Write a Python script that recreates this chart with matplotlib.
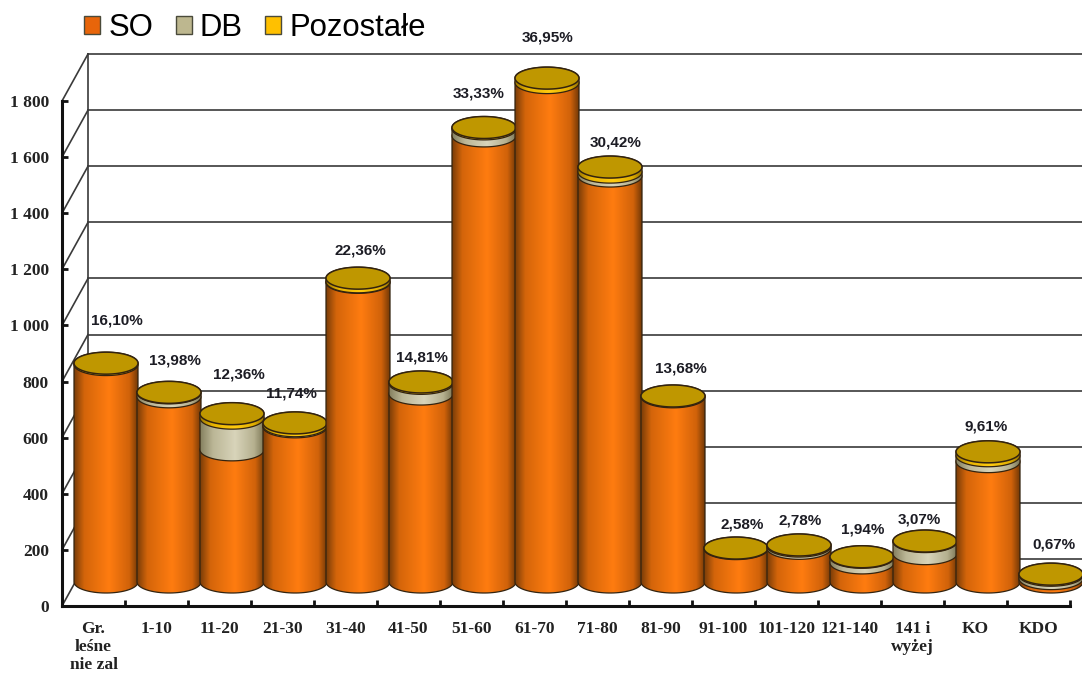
"""
Stacked cylinder chart of stands by age class.
"""
import numpy as np
import matplotlib
matplotlib.use("Agg")
import matplotlib.pyplot as plt
from matplotlib.colors import LinearSegmentedColormap
from matplotlib.patches import Patch, Polygon
from matplotlib.path import Path
from matplotlib.patches import PathPatch

categories = ["Gr.\nleśne\nnie zal", "1-10", "11-20", "21-30", "31-40", "41-50", "51-60", "61-70",
              "71-80", "81-90", "91-100", "101-120", "121-140", "141 i\nwyżej", "KO", "KDO"]
so = [775, 660, 471, 553, 1068, 670, 1590, 1780, 1447, 660, 119, 120, 68, 101, 429, 12]
db = [0, 14, 113, 4, 2, 38, 25, 0, 14, 0, 0, 8, 20, 43, 21, 12]
other = [5, 2, 16, 10, 13, 5, 5, 16, 18, 3, 2, 4, 2, 2, 14, 4]
shares = ["16,10%", "13,98%", "12,36%", "11,74%", "22,36%", "14,81%", "33,33%", "36,95%",
          "30,42%", "13,68%", "2,58%", "2,78%", "1,94%", "3,07%", "9,61%", "0,67%"]
y_ticks = [0, 200, 400, 600, 800, 1000, 1200, 1400, 1600, 1800]
y_tick_labels = ["0", "200", "400", "600", "800", "1 000", "1 200", "1 400", "1 600", "1 800"]
series_names = ["SO", "DB", "Pozostałe"]

# label placement relative to the cylinder cap, pixels
label_dx = [11, 6, 7, -4, 2, 1, -5, 1, 6, 8, 6, 1, 1, -6, -2, 3]
label_dy = [43, 32, 39, 29, 28, 24, 34, 41, 25, 27, 24, 24, 27, 22, 25, 30]

W, H = 1082, 673
PX_X = 63.0      # pixels per category
PX_Y = 0.2806    # pixels per unit
BAR_DX = 12.5 / PX_X
BAR_DY = 24 / PX_Y
WALL_DX = 26 / PX_X
WALL_DY = 47 / PX_Y
ELL_A = 32 / PX_X
ELL_B = 11 / PX_Y

orange = LinearSegmentedColormap.from_list("o", [(0, "#7A3D08"), (0.16, "#D4650A"), (0.55, "#FF7C10"),
                                                 (0.87, "#D0620A"), (1, "#753A07")])
tan = LinearSegmentedColormap.from_list("t", [(0, "#85805F"), (0.2, "#BBB696"), (0.55, "#D8D4BA"),
                                              (0.85, "#B5B08F"), (1, "#7E7958")])
yellow = LinearSegmentedColormap.from_list("y", [(0, "#A07A00"), (0.2, "#E8B400"), (0.55, "#FFCB10"),
                                                 (0.85, "#E0AE00"), (1, "#987400")])
EDGE = "#33230F"
CAP = "#BF9700"


def cylinder_side(xc, v0, v1):
    t = np.linspace(np.pi, 2 * np.pi, 40)
    xb = xc + ELL_A * np.cos(t)
    yb = v0 + ELL_B * np.sin(t)
    t2 = np.linspace(0, np.pi, 40)
    xt = xc + ELL_A * np.cos(t2)
    yt = v1 + ELL_B * np.sin(t2)
    pts = np.column_stack([np.r_[xb, xt], np.r_[yb, yt]])
    return Path(np.vstack([pts, pts[0]]), closed=True)


def draw_segment(ax, xc, v0, v1, cmap, z):
    grad = np.linspace(0, 1, 128)[np.newaxis, :]
    top = v1 + ELL_B
    bottom = v0 - ELL_B
    im = ax.imshow(grad, extent=[xc - ELL_A, xc + ELL_A, bottom, top], aspect="auto",
                   cmap=cmap, vmin=0, vmax=1, zorder=z, origin="lower")
    path = cylinder_side(xc, v0, v1)
    patch = PathPatch(path, transform=ax.transData, fc="none", ec=EDGE, lw=0.9, zorder=z + 0.1, clip_on=False)
    ax.add_patch(patch)
    im.set_clip_path(patch)
    im.set_clip_box(ax.figure.bbox)


def draw_cap(ax, xc, v, z):
    t = np.linspace(0, 2 * np.pi, 90)
    pts = np.column_stack([xc + ELL_A * np.cos(t), v + ELL_B * np.sin(t)])
    ax.add_patch(Polygon(pts, closed=True, fc=CAP, ec=EDGE, lw=1.1, zorder=z, clip_on=False))


fig = plt.figure(figsize=(W / 100, H / 100), dpi=100)
ax = fig.add_axes([62 / W, (H - 606) / H, 1008 / W, 505 / H])
ax.set_autoscale_on(False)
ax.set_xlim(0, 16)
ax.set_ylim(0, 1800)
ax.patch.set_visible(False)

# walls
right_edge = (W - 62) / PX_X
wall_color = "#3A3A3A"
for v in y_ticks:
    ax.plot([WALL_DX, right_edge], [v + WALL_DY, v + WALL_DY], color=wall_color, lw=1.2, zorder=1, clip_on=False)
    ax.plot([0, WALL_DX], [v, v + WALL_DY], color=wall_color, lw=1.2, zorder=1, clip_on=False)
ax.plot([WALL_DX, WALL_DX], [WALL_DY, 1800 + WALL_DY], color=wall_color, lw=1.2, zorder=1, clip_on=False)

# cylinders
z = 3
for i in range(len(categories)):
    xc = i + 0.5 + BAR_DX
    base = BAR_DY
    for val, cmap in zip([so[i], db[i], other[i]], [orange, tan, yellow]):
        if val > 0:
            draw_segment(ax, xc, base, base + val, cmap, z)
            z += 1
        base += val
    draw_cap(ax, xc, base, z)
    z += 1
    ax.annotate(shares[i], xy=(xc, base), xycoords="data",
                xytext=(label_dx[i], label_dy[i]), textcoords="offset pixels",
                ha="center", va="center", fontsize=11, fontweight="bold",
                family="Liberation Sans", color="#1C1C24", zorder=500, annotation_clip=False)

ax.set_xlim(0, 16)
ax.set_ylim(0, 1800)

# axes
for s in ["top", "right"]:
    ax.spines[s].set_visible(False)
for s in ["left", "bottom"]:
    ax.spines[s].set_linewidth(2.2)
    ax.spines[s].set_color("#111111")
    ax.spines[s].set_zorder(400)

ax.set_yticks(y_ticks)
ax.set_yticklabels(y_tick_labels, fontsize=12.5, fontweight="bold", family="Liberation Serif", color="#222222")
ax.set_xticks(np.arange(0, 17))
ax.set_xticklabels([])
ax.set_xticks(np.arange(len(categories)) + 0.5, minor=True)
ax.set_xticklabels(categories, minor=True, fontsize=12.5, fontweight="bold", family="Liberation Serif",
                   color="#222222", linespacing=1.17, va="top")
ax.tick_params(axis="both", which="major", direction="in", length=4, width=2.0, color="#111111")
ax.tick_params(axis="y", which="major", pad=9.5)
ax.tick_params(axis="x", which="minor", length=0, pad=10.5)

handles = [Patch(fc="#E8650A", ec="#4A4A3A", lw=1.0), Patch(fc="#BDB78F", ec="#4A4A3A", lw=1.0),
           Patch(fc="#FFC000", ec="#4A4A3A", lw=1.0)]
fig.legend(handles, series_names, ncol=3, frameon=False, loc="center left",
           bbox_to_anchor=(84 / W, (H - 28) / H), borderpad=0, borderaxespad=0,
           handlelength=0.52, handleheight=0.52, handletextpad=0.26, columnspacing=0.72,
           prop={"family": "Liberation Sans", "size": 22.4})

fig.savefig("out.png", dpi=100)
